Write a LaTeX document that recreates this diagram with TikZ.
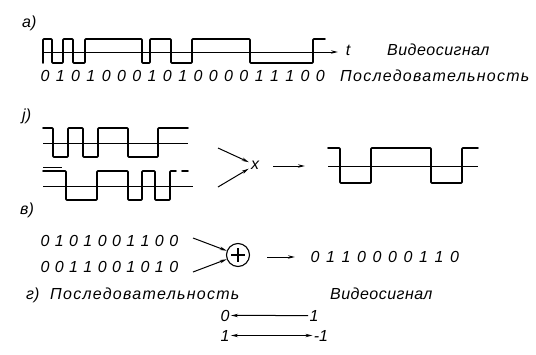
\documentclass[tikz,border=0pt]{standalone}
\usepackage{fontspec}
\setmainfont{Liberation Sans}
\usetikzlibrary{arrows.meta,calc}
\newcommand\gost{\itshape\fontsize{16}{18}\selectfont}
\newcommand\gostwide{\gost\addfontfeatures{LetterSpace=8}}
\newcommand\gostmid{\gost\addfontfeatures{LetterSpace=3}}
\begin{document}
\begin{tikzpicture}[x=1pt,y=-1pt,
 wave/.style={line width=1.6pt, line join=round, line cap=round, rounded corners=0.8pt},
 midline/.style={line width=0.9pt},
 arr/.style={line width=1pt, -{Stealth[length=7pt,width=3.4pt]}},
 arrb/.style={line width=1pt, {Stealth[length=7pt,width=3.4pt]}-{Stealth[length=7pt,width=3.4pt]}},
 lbl/.style={font=\gost, inner sep=0pt, anchor=base west},
 dig/.style={font=\gost, inner sep=0pt, anchor=base},
 longtxt/.style={font=\gostwide, inner sep=0pt, anchor=base west},
 midtxt/.style={font=\gostmid, inner sep=0pt, anchor=base west}]
\useasboundingbox (0,0) rectangle (536,354);
\fill[white] (0,0) rectangle (536,354);

% ---- a) ----
\node[lbl] (la) at (22,27) {a)};
\draw[wave] (43,63) -- (43,39) -- (52,39) -- (52,63) -- (63,63) -- (63,39) -- (73,39) -- (73,63) -- (85,63) -- (85,39) -- (142,39) -- (142,63) -- (150,63) -- (150,39) -- (171,39) -- (171,63) -- (192,63) -- (192,39) -- (250,39) -- (250,63) -- (313,63) -- (313,39) -- (325,39);
\coordinate (axs) at (43,52);
\coordinate (axe) at (338,52);
\draw[arr] (axs) -- (axe);
\node[dig] (tl) at (348,55) {t};
\node[midtxt] (vs1) at (387,55) {Видеосигнал};
\foreach \d [count=\i from 0] in {0,1,0,1,0,0,0,1,0,1,0,0,0,0,1,1,1,0,0}
  \node[dig] (sa\i) at ({45+15.3*\i},81) {\d};
\node[longtxt] (ps1) at (340,81) {Последовательность};

% ---- j) ----
\node[lbl] (lj) at (22,120) {j)};
\draw[wave] (43,128) -- (53,128) -- (53,157) -- (68,157) -- (68,128) -- (83,128) -- (83,157) -- (98,157) -- (98,128) -- (128,128) -- (128,157) -- (158,157) -- (158,128) -- (188,128);
\draw[midline] (43,143) -- (188,143);
\draw[wave] (43,171) -- (66,171) -- (66,200) -- (97,200) -- (97,171) -- (128,171) -- (128,200) -- (142,200) -- (142,171) -- (155,171) -- (155,200) -- (170,200) -- (170,171) -- (176,171);
\draw[wave] (182,171) -- (188,171);
\draw[line width=1pt] (43,167.5) -- (62,167.5);
\draw[midline] (43,186) -- (193,186);
\node[font=\gost, inner sep=2pt] (xm) at (255,165) {x};
\coordinate (xa1) at (218,148);
\coordinate (xa2) at (218,187);
\draw[arr] (xa1) -- (xm);
\draw[arr] (xa2) -- (xm);
\coordinate (xo1) at (273,166);
\coordinate (xo2) at (305,166);
\draw[arr] (xo1) -- (xo2);
\draw[wave] (328,148) -- (340,148) -- (340,183) -- (371,183) -- (371,148) -- (431,148) -- (431,183) -- (462,183) -- (462,148) -- (478,148);
\draw[midline] (328,166) -- (478,166);

% ---- v) ----
\node[lbl] (lv) at (20,214) {в)};
\foreach \d [count=\i from 0] in {0,1,0,1,0,0,1,1,0,0}
  \node[dig] (ra\i) at ({45+14.3*\i},246) {\d};
\foreach \d [count=\i from 0] in {0,0,1,1,0,0,1,0,1,0}
  \node[dig] (rb\i) at ({45+14.3*\i},272) {\d};
\node[circle, draw, line width=1.1pt, minimum size=23pt, inner sep=0pt] (pl) at (238,255) {};
\draw[line width=1.1pt] ($(pl.center)+(-7,0)$) -- ($(pl.center)+(7,0)$);
\draw[line width=1.1pt] ($(pl.center)+(0,-7)$) -- ($(pl.center)+(0,7)$);
\coordinate (pa1) at (193,238);
\coordinate (pa2) at (193,272);
\draw[arr] (pa1) -- (pl);
\draw[arr] (pa2) -- (pl);
\coordinate (po1) at (267,257);
\coordinate (po2) at (295,257);
\draw[arr] (po1) -- (po2);
\foreach \d [count=\i from 0] in {0,1,1,0,0,0,0,1,1,0}
  \node[dig] (rc\i) at ({315+15.5*\i},262) {\d};

% ---- g) ----
\node[lbl] (lg) at (26,299) {г)};
\node[longtxt] (ps2) at (50,299) {Последовательность};
\node[midtxt] (vs2) at (330,299) {Видеосигнал};
\node[dig, outer sep=1.5pt] (n0) at (225,321) {0};
\node[dig, outer sep=1.5pt] (n1) at (314,321) {1};
\draw[arr] (n1) -- (n0);
\node[dig, outer sep=1.5pt] (m1) at (225,341) {1};
\node[dig, outer sep=1.5pt] (mm1) at (321,341) {-1};
\draw[arrb] (m1) -- (mm1);
\end{tikzpicture}
\end{document}
